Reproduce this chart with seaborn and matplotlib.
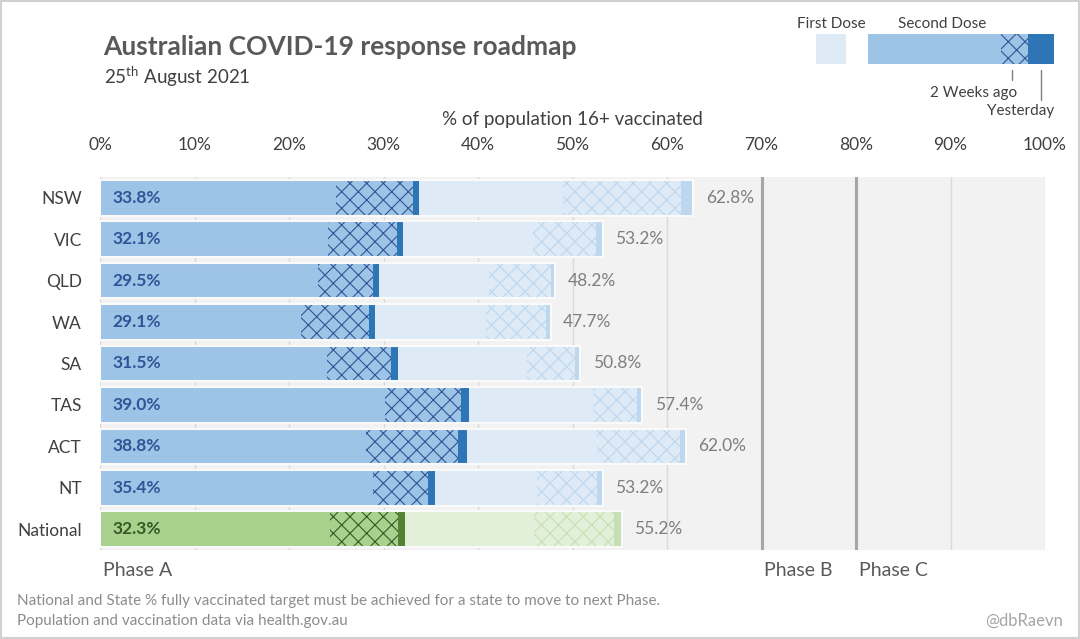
import matplotlib
matplotlib.use("Agg")
import matplotlib.pyplot as plt
from matplotlib.patches import Rectangle
import seaborn as sns
import pandas as pd

# data (percent of population 16+)
states = ["NSW", "VIC", "QLD", "WA", "SA", "TAS", "ACT", "NT", "National"]
second_now = [33.8, 32.1, 29.5, 29.1, 31.5, 39.0, 38.8, 35.4, 32.3]
second_yesterday = [33.1, 31.4, 28.9, 28.5, 30.8, 38.2, 37.9, 34.7, 31.5]
second_2wk = [25.0, 24.1, 23.1, 21.3, 24.0, 30.2, 28.1, 28.9, 24.3]
first_now = [62.8, 53.2, 48.2, 47.7, 50.8, 57.4, 62.0, 53.2, 55.2]
first_yesterday = [61.5, 52.5, 47.7, 47.2, 50.3, 56.8, 61.4, 52.6, 54.4]
first_2wk = [49.0, 45.8, 41.2, 40.8, 45.2, 52.2, 52.6, 46.2, 45.9]
phase_labels = ["Phase A", "Phase B", "Phase C"]
phase_at = [0, 70, 80]

df = pd.DataFrame({
    "state": states,
    "second_now": second_now, "second_yesterday": second_yesterday, "second_2wk": second_2wk,
    "first_now": first_now, "first_yesterday": first_yesterday, "first_2wk": first_2wk,
})

# colours: (state, national)
BLUE = {"first_now": "#bdd7ee", "first_yesterday": "#deebf7", "first_2wk": "#deebf7",
        "second_now": "#2e75b6", "second_yesterday": "#9dc3e6", "second_2wk": "#9dc3e6"}
GREEN = {"first_now": "#c5e0b4", "first_yesterday": "#e2f0d9", "first_2wk": "#e2f0d9",
         "second_now": "#548235", "second_yesterday": "#a9d18e", "second_2wk": "#a9d18e"}
HATCH_BLUE = {"first_yesterday": "#bdd7ee", "second_yesterday": "#2f5597"}
HATCH_GREEN = {"first_yesterday": "#c5e0b4", "second_yesterday": "#385723"}

sns.set_theme(style="white")
plt.rcParams["font.family"] = ["Lato", "DejaVu Sans"]
plt.rcParams["mathtext.fontset"] = "custom"
plt.rcParams["mathtext.rm"] = "Lato"
plt.rcParams["hatch.linewidth"] = 0.8

fig = plt.figure(figsize=(10.8, 6.39), dpi=100)
ax = fig.add_axes([100 / 1080, 1 - 550 / 639, 945 / 1080, 373 / 639])
ax.set_facecolor("#f2f2f2")

BAR_W = 0.86
layers = ["first_now", "first_yesterday", "first_2wk", "second_now", "second_yesterday", "second_2wk"]
for col in layers:
    sns.barplot(data=df, x=col, y="state", order=states, orient="h", color=BLUE[col],
                width=BAR_W, linewidth=0, saturation=1, ax=ax, zorder=2)
    bars = ax.containers[-1]
    for bar, st in zip(bars, states):
        pal = GREEN if st == "National" else BLUE
        bar.set_facecolor(pal[col])
        if col in HATCH_BLUE:
            hp = HATCH_GREEN if st == "National" else HATCH_BLUE
            bar.set_hatch("xx")
            bar.set_edgecolor(hp[col])
            bar.set_linewidth(0)

# thin white outline round each whole bar
sns.barplot(data=df, x="first_now", y="state", order=states, orient="h", fill=False,
            width=BAR_W, edgecolor="#fafafa", linewidth=1.5, ax=ax, zorder=3)

ax.set_xlim(0, 100)
ax.set_ylim(len(states) - 0.5, -0.5)
ax.set_xticks(range(0, 101, 10))
ax.set_xticklabels([f"{v}%" for v in range(0, 101, 10)])
ax.xaxis.tick_top()
ax.xaxis.set_label_position("top")
ax.set_xlabel("% of population 16+ vaccinated", fontsize=13.5, color="#404040", labelpad=9)
ax.set_ylabel("")
ax.tick_params(axis="x", length=0, pad=17, labelsize=12.5, labelcolor="#404040")
ax.tick_params(axis="y", length=0, pad=13, labelsize=12.5, labelcolor="#404040")
for s in ax.spines.values():
    s.set_visible(False)
ax.set_axisbelow(True)
ax.grid(axis="x", color="#d9d9d9", linewidth=1)
for x in phase_at[1:]:
    ax.axvline(x, color="#a6a6a6", linewidth=2.2, zorder=1.5)

# value labels
for i, st in enumerate(states):
    nat = st == "National"
    ax.annotate(f"{second_now[i]:.1f}%", xy=(0, i), xytext=(9, 0), textcoords="offset points",
                va="center", ha="left", fontsize=12.5, fontweight="bold",
                color="#385723" if nat else "#2f5597", zorder=5)
    ax.annotate(f"{first_now[i]:.1f}%", xy=(first_now[i], i), xytext=(9, 0),
                textcoords="offset points", va="center", ha="left", fontsize=12.5,
                color="#7f7f7f", zorder=5)

# phase labels
for lab, x in zip(phase_labels, phase_at):
    ax.annotate(lab, xy=(x, 0), xycoords=("data", "axes fraction"), xytext=(2, -15),
                textcoords="offset points", va="center", ha="left", fontsize=14, color="#595959")

# titles
fig.text(103 / 1080, 1 - 47 / 639, "Australian COVID-19 response roadmap", fontsize=19,
         fontweight="bold", color="#595959", va="center", ha="left")
fig.text(104 / 1080, 1 - 77 / 639, r"25$^{\mathrm{th}}$ August 2021", fontsize=13.5,
         color="#404040", va="center", ha="left")

# legend
lg = fig.add_axes([816 / 1080, 1 - 64 / 639, 238 / 1080, 30 / 639])
lg.set_xlim(0, 238)
lg.set_ylim(0, 30)
lg.axis("off")
lg.add_patch(Rectangle((0, 0), 30, 30, facecolor=BLUE["first_2wk"], linewidth=0))
lg.add_patch(Rectangle((52, 0), 133, 30, facecolor=BLUE["second_2wk"], linewidth=0))
lg.add_patch(Rectangle((185, 0), 27, 30, facecolor=BLUE["second_yesterday"], hatch="xx",
                       edgecolor=HATCH_BLUE["second_yesterday"], linewidth=0))
lg.add_patch(Rectangle((212, 0), 26, 30, facecolor=BLUE["second_now"], linewidth=0))
fig.text(831 / 1080, 1 - 24 / 639, "First Dose", fontsize=11, color="#404040", ha="center", va="center")
fig.text(942 / 1080, 1 - 24 / 639, "Second Dose", fontsize=11, color="#404040", ha="center", va="center")
fig.add_artist(plt.Line2D([1012 / 1080] * 2, [1 - 70 / 639, 1 - 80 / 639], color="#7f7f7f", lw=1))
fig.add_artist(plt.Line2D([1041 / 1080] * 2, [1 - 70 / 639, 1 - 100 / 639], color="#7f7f7f", lw=1))
fig.text(974 / 1080, 1 - 93 / 639, "2 Weeks ago", fontsize=11, color="#404040", ha="center", va="center")
fig.text(1054 / 1080, 1 - 111 / 639, "Yesterday", fontsize=11, color="#404040", ha="right", va="center")

# footnotes
fig.text(17 / 1080, 1 - 601 / 639,
         "National and State % fully vaccinated target must be achieved for a state to move to next Phase.",
         fontsize=11, color="#8c8c8c", ha="left", va="center")
fig.text(17 / 1080, 1 - 621 / 639, "Population and vaccination data via health.gov.au",
         fontsize=11, color="#8c8c8c", ha="left", va="center")
fig.text(1063 / 1080, 1 - 621 / 639, "@dbRaevn", fontsize=12, color="#a6a6a6", ha="right", va="center")

fig.patches.append(Rectangle((0.001, 0.001), 0.998, 0.997, transform=fig.transFigure, fill=False,
                             edgecolor="#d0d0d0", linewidth=1.5))

fig.savefig("out.png", dpi=100)
